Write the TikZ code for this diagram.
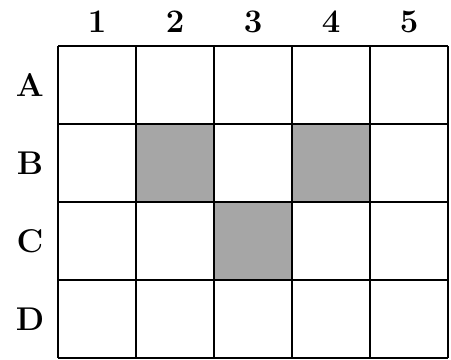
\documentclass[tikz,border=0pt]{standalone}
\usepackage{tikz}
\usetikzlibrary{positioning}

\begin{document}
\begin{tikzpicture}[
    cell/.style={draw=black, line width=1pt},
    shade/.style={fill=black!35},
    lab/.style={font=\large\bfseries}
]
\useasboundingbox (-0.744,0.590) rectangle (5.038,-4.02);

% ---------------- Shaded cells ----------------
\fill[shade] (1,-1) rectangle (2,-2);
\fill[shade] (3,-1) rectangle (4,-2);
\fill[shade] (2,-2) rectangle (3,-3);

% ---------------- Grid ----------------
\draw[cell] (0,0) grid (5,-4);

% ---------------- Labels ----------------
\foreach \c in {1,...,5}
    \node[lab] (col\c) at (\c-0.5,0.31) {\c};
\foreach \r/\name [count=\i] in {A/A,B/B,C/C,D/D}
    \node[lab] (row\name) at (-0.36,-\i+0.5) {\r};

\end{tikzpicture}
\end{document}
